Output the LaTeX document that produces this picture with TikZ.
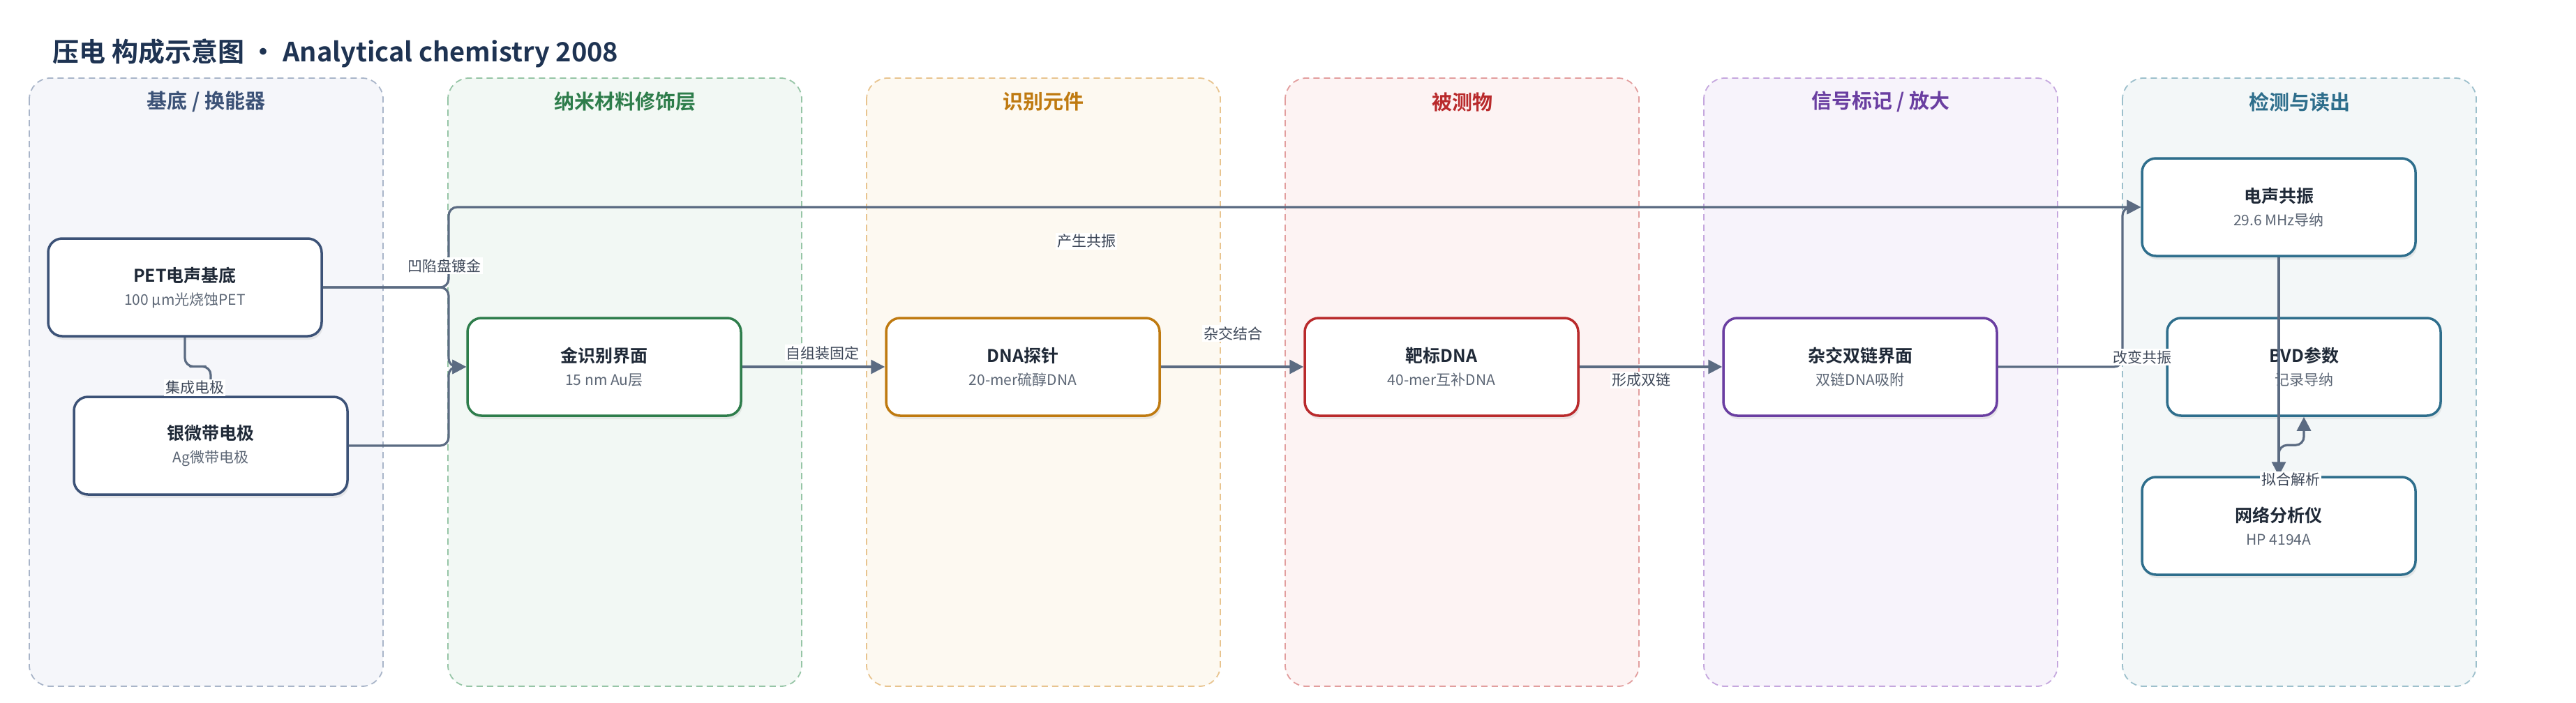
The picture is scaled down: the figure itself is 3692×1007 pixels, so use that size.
\documentclass[tikz,border=0pt]{standalone}
\usepackage{fontspec}
\setmainfont{Noto Sans CJK SC}[BoldFont={Noto Sans CJK SC Bold}]
\usepackage{tikz}
\usetikzlibrary{arrows.meta, shadows, calc}
\usepackage{xcolor}

\definecolor{ink}{HTML}{1E3352}
\definecolor{edgec}{HTML}{5B6B82}
\definecolor{labelc}{HTML}{3E4859}
\definecolor{nodeink}{HTML}{1F2937}
\definecolor{subgray}{HTML}{5C6675}
\definecolor{laneAb}{HTML}{A9B5C9}\definecolor{laneAf}{HTML}{F5F6FA}\definecolor{laneAh}{HTML}{3C5277}
\definecolor{laneBb}{HTML}{96C5A6}\definecolor{laneBf}{HTML}{F2F8F4}\definecolor{laneBh}{HTML}{2E7D4B}
\definecolor{laneCb}{HTML}{E8C48F}\definecolor{laneCf}{HTML}{FDF9F1}\definecolor{laneCh}{HTML}{BF7A10}
\definecolor{laneDb}{HTML}{E29E9E}\definecolor{laneDf}{HTML}{FDF3F3}\definecolor{laneDh}{HTML}{B92A2C}
\definecolor{laneEb}{HTML}{C5A7DE}\definecolor{laneEf}{HTML}{F7F3FB}\definecolor{laneEh}{HTML}{6A3EA1}
\definecolor{laneFb}{HTML}{9DC0CC}\definecolor{laneFf}{HTML}{F3F7F8}\definecolor{laneFh}{HTML}{2E6E8C}

\newcommand{\stagetext}[2]{\textbf{#1}\\{\fontsize{21}{33}\selectfont\color{subgray}#2}}

\begin{document}
\begin{tikzpicture}[x=1pt, y=-1pt,
    lane/.style={rounded corners=30pt, dash pattern=on 9pt off 6pt, line width=1.8pt},
    lanehead/.style={font=\fontsize{29}{34}\selectfont\bfseries},
    stage/.style={draw, rounded corners=20pt, line width=3.5pt, fill=white,
        minimum width=392pt, minimum height=140pt, align=center, text=nodeink,
        font=\fontsize{25}{33}\selectfont,
        drop shadow={shadow xshift=2pt, shadow yshift=-5pt, opacity=0.14}},
    flow/.style={line width=3.2pt, draw=edgec, rounded corners=12pt, -{Triangle[length=20pt, width=20pt]}},
    elabel/.style={fill=white, inner sep=2pt, text=labelc, font=\fontsize{21}{24}\selectfont}]
    \useasboundingbox (0,0) rectangle (3692,1007);

    \node[anchor=west, text=ink, font=\fontsize{38}{44}\selectfont\bfseries] (title) at (72,76)
        {压电 构成示意图 · Analytical chemistry 2008};

    % lanes
    \draw[lane, draw=laneAb, fill=laneAf] (42,112) rectangle (549,984);
    \draw[lane, draw=laneBb, fill=laneBf] (642,112) rectangle (1149,984);
    \draw[lane, draw=laneCb, fill=laneCf] (1242,112) rectangle (1749,984);
    \draw[lane, draw=laneDb, fill=laneDf] (1842,112) rectangle (2349,984);
    \draw[lane, draw=laneEb, fill=laneEf] (2442,112) rectangle (2949,984);
    \draw[lane, draw=laneFb, fill=laneFf] (3042,112) rectangle (3549,984);
    \node[lanehead, text=laneAh] (headA) at (295.5,146) {基底 / 换能器};
    \node[lanehead, text=laneBh] (headB) at (895.5,146) {纳米材料修饰层};
    \node[lanehead, text=laneCh] (headC) at (1495.5,146) {识别元件};
    \node[lanehead, text=laneDh] (headD) at (2095.5,146) {被测物};
    \node[lanehead, text=laneEh] (headE) at (2695.5,146) {信号标记 / 放大};
    \node[lanehead, text=laneFh] (headF) at (3295.5,146) {检测与读出};

    % stages
    \node[stage, draw=laneAh] (pet) at (265,412) {\stagetext{PET电声基底}{100 μm光烧蚀PET}};
    \node[stage, draw=laneAh] (ag) at (302,639) {\stagetext{银微带电极}{Ag微带电极}};
    \node[stage, draw=laneBh] (gold) at (866,526) {\stagetext{金识别界面}{15 nm Au层}};
    \node[stage, draw=laneCh] (probe) at (1466,526) {\stagetext{DNA探针}{20-mer硫醇DNA}};
    \node[stage, draw=laneDh] (target) at (2066,526) {\stagetext{靶标DNA}{40-mer互补DNA}};
    \node[stage, draw=laneEh] (hyb) at (2666,526) {\stagetext{杂交双链界面}{双链DNA吸附}};
    \node[stage, draw=laneFh] (res) at (3266,297) {\stagetext{电声共振}{29.6 MHz导纳}};
    \node[stage, draw=laneFh] (bvd) at (3302,526) {\stagetext{BVD参数}{记录导纳}};
    \node[stage, draw=laneFh] (net) at (3266,754) {\stagetext{网络分析仪}{HP 4194A}};

    \coordinate (jA) at (643,0);
    \coordinate (jB) at (3042,0);

    % connectors
    \draw[flow] (pet.east) -| (jA |- res.west) -- (res.west);
    \draw[flow] (pet.east) -| (jA |- gold.west) -- (gold.west);
    \draw[flow] (ag.east) -| (jA |- gold.west) -- (gold.west);
    \draw[flow] (pet.south) |- ($(pet.south)!0.5!(ag.north)$) -| (ag.north);
    \draw[flow] (gold) -- (probe);
    \draw[flow] (probe) -- (target);
    \draw[flow] (target) -- (hyb);
    \draw[flow] (hyb.east) -| (jB |- res.west) -- (res.west);
    \draw[flow] (res.south) -- (net.north);
    \draw[flow] (net.north) -- ++(0,-44) -| (bvd.south);

    \node[elabel] (l1) at (637,381) {凹陷盘镀金};
    \node[elabel] (l2) at (1557,346) {产生共振};
    \node[elabel] (l3) at (279,556) {集成电极};
    \node[elabel] (l4) at (1179,506) {自组装固定};
    \node[elabel] (l5) at (1767,478) {杂交结合};
    \node[elabel] (l6) at (2352,545) {形成双链};
    \node[elabel] (l7) at (3070,512) {改变共振};
    \node[elabel] (l8) at (3283,688) {拟合解析};
\end{tikzpicture}
\end{document}
